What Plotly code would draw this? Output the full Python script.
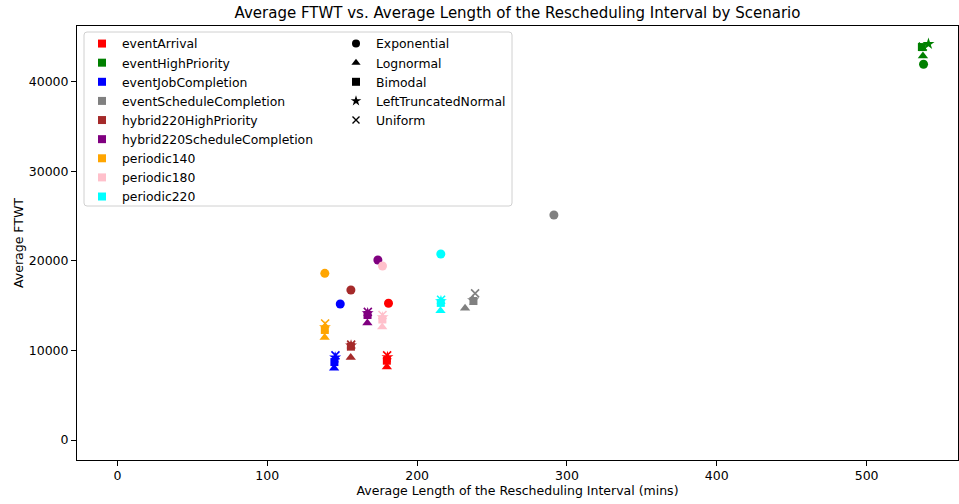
import plotly.graph_objects as go

# Scenarios, their colours and the arrival-time distributions
scenarios = ["eventArrival", "eventHighPriority", "eventJobCompletion",
             "eventScheduleCompletion", "hybrid220HighPriority",
             "hybrid220ScheduleCompletion", "periodic140", "periodic180",
             "periodic220"]
scenario_colors = ["red", "green", "blue", "gray", "brown", "purple",
                   "orange", "pink", "cyan"]
distributions = ["Exponential", "Lognormal", "Bimodal",
                 "LeftTruncatedNormal", "Uniform"]
dist_symbols = ["circle", "triangle-up", "square", "star", "x-thin"]
dist_sizes = [9, 9, 8, 9, 8]

# Average length of the rescheduling interval (mins), rows follow scenarios,
# columns follow distributions
avg_interval = [
    [180.9, 179.8, 179.8, 180.2, 180.0],
    [538.0, 537.6, 536.9, 541.3, 537.5],
    [148.7, 144.6, 144.8, 145.3, 145.5],
    [291.3, 232.0, 237.6, 237.3, 238.7],
    [155.8, 155.7, 155.8, 155.9, 156.0],
    [173.8, 166.8, 166.9, 167.0, 167.1],
    [138.4, 138.3, 138.4, 138.5, 138.6],
    [176.9, 176.7, 176.8, 177.0, 176.9],
    [215.8, 215.6, 215.8, 215.9, 216.0],
]

# Average FTWT, same layout as above
avg_ftwt = [
    [15260, 8150, 8850, 9250, 9450],
    [41930, 42860, 43850, 44200, 43900],
    [15180, 8000, 8700, 9200, 9450],
    [25110, 14700, 15510, 15600, 16370],
    [16740, 9200, 10420, 10550, 10650],
    [20090, 13050, 13950, 14150, 14300],
    [18600, 11450, 12280, 12600, 13000],
    [19420, 12600, 13450, 13700, 13950],
    [20760, 14430, 15300, 15500, 15650],
]

FONT = "DejaVu Sans"
fig = go.Figure()

for i, (name, color) in enumerate(zip(scenarios, scenario_colors)):
    for j, dist in enumerate(distributions):
        is_x = dist_symbols[j] == "x-thin"
        fig.add_trace(go.Scatter(
            x=[avg_interval[i][j]], y=[avg_ftwt[i][j]],
            mode="markers", showlegend=False,
            name=f"{name} / {dist}",
            marker=dict(symbol=dist_symbols[j], size=dist_sizes[j], color=color,
                        line=dict(width=1.6 if is_x else 0, color=color)),
        ))

# Legend entries: scenario colours
for name, color in zip(scenarios, scenario_colors):
    fig.add_trace(go.Scatter(
        x=[None], y=[None], mode="markers", name=name, legend="legend",
        marker=dict(symbol="square", size=8, color=color, line=dict(width=0)),
    ))

# Legend entries: distribution marker shapes
for dist, sym in zip(distributions, dist_symbols):
    is_x = sym == "x-thin"
    fig.add_trace(go.Scatter(
        x=[None], y=[None], mode="markers", name=dist, legend="legend2",
        marker=dict(symbol=sym, size=7 if is_x else 8, color="black",
                    line=dict(width=1.4 if is_x else 0, color="black")),
    ))

# Plot area in pixels (used to place legend frame in paper units)
L, R, T, B = 77, 1, 26, 44
W, H = 959, 504
pw, ph = W - L - R, H - T - B


def px_x(p):
    return (p - L) / pw


def px_y(p):
    return (H - B - p) / ph


# Rounded legend frame
x0, x1, y0, y1 = px_x(84), px_x(512), px_y(206), px_y(32)
rx, ry = 3 / pw, 3 / ph
frame = (f"M {x0 + rx},{y1} L {x1 - rx},{y1} Q {x1},{y1} {x1},{y1 - ry} "
         f"L {x1},{y0 + ry} Q {x1},{y0} {x1 - rx},{y0} L {x0 + rx},{y0} "
         f"Q {x0},{y0} {x0},{y0 + ry} L {x0},{y1 - ry} Q {x0},{y1} {x0 + rx},{y1} Z")
fig.add_shape(type="path", path=frame, xref="paper", yref="paper",
              line=dict(color="#d0d0d0", width=1),
              fillcolor="rgba(255,255,255,0.8)", layer="above")

legend_common = dict(font=dict(family=FONT, size=12.4, color="black"),
                     bgcolor="rgba(0,0,0,0)", borderwidth=0,
                     xanchor="left", yanchor="top", itemsizing="trace",
                     tracegroupgap=0)

fig.update_layout(
    width=W, height=H,
    margin=dict(l=L, r=R, t=T, b=B),
    paper_bgcolor="white", plot_bgcolor="white",
    font=dict(family=FONT, size=12.5, color="black"),
    title=dict(text="Average FTWT vs. Average Length of the Rescheduling Interval by Scenario",
               x=(L + pw / 2) / W, xanchor="center", y=1 - 13 / H, yanchor="middle",
               font=dict(family=FONT, size=15, color="black")),
    legend=dict(x=px_x(82), y=px_y(29), **legend_common),
    legend2=dict(x=px_x(336), y=px_y(29), **legend_common),
    xaxis=dict(range=[-27, 561], dtick=100, tick0=0, showgrid=False, zeroline=False,
               showline=True, linecolor="black", linewidth=1, mirror=True,
               ticks="outside", ticklen=5, tickwidth=1, tickcolor="black",
               tickfont=dict(family=FONT, size=12.5), ticklabelstandoff=-1,
               title=dict(text="Average Length of the Rescheduling Interval (mins)",
                          font=dict(family=FONT, size=12.5), standoff=3)),
    yaxis=dict(range=[-2230, 46200], dtick=10000, tick0=0, tickformat="d",
               showgrid=False, zeroline=False,
               showline=True, linecolor="black", linewidth=1, mirror=True,
               ticks="outside", ticklen=5, tickwidth=1, tickcolor="black",
               tickfont=dict(family=FONT, size=12.5),
               title=dict(text="Average FTWT", font=dict(family=FONT, size=12.5),
                          standoff=2)),
)

fig.write_html("out.html")
